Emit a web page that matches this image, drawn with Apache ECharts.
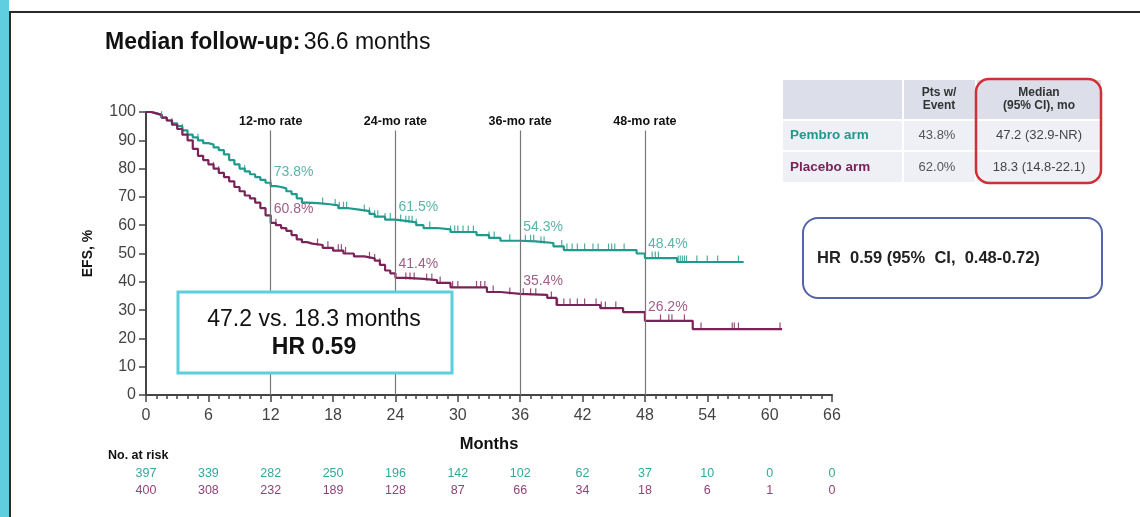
<!DOCTYPE html>
<html>
<head>
<meta charset="utf-8">
<script src="https://cdn.jsdelivr.net/npm/echarts@6/dist/echarts.min.js"></script>
<style>
  html, body { margin: 0; padding: 0; background: #fff; }
  #chart { width: 1140px; height: 517px; }
</style>
</head>
<body>
<div id="chart"></div>
<script>
// Kaplan-Meier event-free survival, step points [month, EFS %]
const pembroTimes  = [0,0.5,1,1.5,2,2.5,3,3.5,4,4.5,5,5.5,6,6.5,7,7.5,8,8.5,9,9.5,10,10.5,11,11.5,12,12.5,13,13.5,14,14.5,15,15.5,16.5,17.5,18.5,19.5,20.5,21.5,22,23,24,25,26,26.7,28,29.3,31.8,33,34.1,36,37.5,39.2,40.2,47.2,48,51.1,57.5];
const pembroEFS    = [100,99.5,99,98,97,96,95,93.5,92,91,90,89,88.5,87.5,86.5,85,83,81.5,80,79,78,77,76,75,73.8,73.5,73,72,71,69.5,68,67.8,67.5,67,66,65.5,65,64,63,62,61.5,61,60,59,58.5,57.6,56.5,55.5,54.5,54.3,53.7,52.5,51.2,50,48.4,47,47];
const placeboTimes = [0,0.5,1,1.5,2,2.5,3,3.5,4,4.5,5,5.5,6,6.5,7,7.5,8,8.5,9,9.5,10,10.5,11,11.5,12,12.5,13,13.5,14,14.5,15,15.5,16,17,18,19,20,21,22,22.5,23,23.5,24,25,26.7,28,29.3,32.8,34.1,36,38.6,39.5,43.7,45.9,48,52.6,61.2];
const placeboEFS   = [100,99.5,99,98,97,95.5,94,92,90,87,84.5,83,81.5,80,78.5,77,75.5,73.5,72,70.5,69.5,68,66,63.5,60.8,60,59,58,56.5,55,54,53.5,53,52,51,50,49,48.3,47.5,46,44,43,41.4,41,40.6,39.6,38,36.4,35.7,35.4,34.3,31.8,30.7,29.3,26.2,23.3,23.3];

// Censoring times (months)
const pembroCensor  = [1.5,3.5,5,9.5,12,17,18.2,18.6,19,19.3,21,21.5,22,22.3,23,23.5,24.5,25,25.3,25.6,26,27.3,29.3,29.7,30,30.5,31,31.5,33,33.5,35,36.5,37,37.3,38,38.3,40,40.5,41,41.5,42.2,43,43.5,44.5,44.8,45.1,46,48.7,49,49.3,51.2,51.4,51.6,51.8,52,53,54,55,57];
const placeboCensor = [2.5,3.5,6.5,7,12.5,16.5,17.5,18.5,18.8,19.2,21.5,22,22.5,25,25.4,25.8,27,27.5,28.3,29.5,30,31.8,32.2,32.6,33.4,35,36.3,37,37.5,39,39.6,40.2,40.8,41.5,42.2,43.3,43.8,44.2,45.2,49.5,50.3,50.6,51.8,53.4,56.4,56.6,57,61];

// Landmark rates
const rateMonths   = [12, 24, 36, 48];
const rateLabels   = ['12-mo rate', '24-mo rate', '36-mo rate', '48-mo rate'];
const pembroRates  = [73.8, 61.5, 54.3, 48.4];
const placeboRates = [60.8, 41.4, 35.4, 26.2];

// Number at risk, every 6 months
const riskMonths  = [0,6,12,18,24,30,36,42,48,54,60,66];
const riskPembro  = [397,339,282,250,196,142,102,62,37,10,0,0];
const riskPlacebo = [400,308,232,189,128,87,66,34,18,6,1,0];

// Summary table
const tableArms    = ['Pembro arm', 'Placebo arm'];
const tableEvents  = ['43.8%', '62.0%'];
const tableMedians = ['47.2 (32.9-NR)', '18.3 (14.8-22.1)'];

const TEAL = '#1f9a8c';
const MAROON = '#7b2358';
const FONT = '"Liberation Sans", Arial, sans-serif';

function zipPts(t, v) { return t.map((x, i) => [x, v[i]]); }
function stepValue(t, v, x) {
  let y = v[0];
  for (let i = 0; i < t.length; i++) { if (t[i] <= x) y = v[i]; else break; }
  return y;
}
function censorPts(c, t, v) { return c.map(x => [x, stepValue(t, v, x)]); }

const chart = echarts.init(document.getElementById('chart'), null, { renderer: 'canvas' });

function riskAxis(values, color, offset) {
  return {
    type: 'value', min: 0, max: 66, interval: 6, position: 'bottom', offset: offset,
    axisLine: { show: false }, axisTick: { show: false }, splitLine: { show: false },
    axisLabel: {
      showMinLabel: true, showMaxLabel: true, margin: 0,
      color: color, fontSize: 12.5, fontFamily: FONT,
      formatter: v => { const i = riskMonths.indexOf(v); return i >= 0 ? String(values[i]) : ''; }
    }
  };
}

const graphics = [];
// page frame
graphics.push({ type: 'rect', shape: { x: 0, y: 0, width: 9, height: 517 }, style: { fill: '#5fcfdf' } });
graphics.push({ type: 'rect', shape: { x: 9, y: 11, width: 2, height: 506 }, style: { fill: '#2a2a2a' } });
graphics.push({ type: 'rect', shape: { x: 9, y: 11, width: 1131, height: 2 }, style: { fill: '#2a2a2a' } });
// title
graphics.push({
  type: 'text', left: 105, top: 31,
  style: {
    text: '{b|Median follow-up:} {n|36.6 months}',
    rich: {
      b: { fontSize: 23, fontWeight: 'bold', fontFamily: FONT, fill: '#111' },
      n: { fontSize: 23, fontFamily: FONT, fill: '#111' }
    }
  }
});
// summary table
const colX = [783, 904, 977];
const colW = [119, 71, 124];
const rowY = [80, 121, 152];
const rowH = [39, 29, 30];
for (let r = 0; r < 3; r++) {
  for (let c = 0; c < 3; c++) {
    graphics.push({ type: 'rect', shape: { x: colX[c], y: rowY[r], width: colW[c], height: rowH[r] },
      style: { fill: r === 0 ? '#dcdfea' : '#eef0f6' } });
  }
}
graphics.push({ type: 'text', x: 939, y: 99, style: { text: 'Pts w/\nEvent', fontSize: 12, fontWeight: 'bold', fontFamily: FONT, fill: '#333', align: 'center', verticalAlign: 'middle', lineHeight: 13 } });
graphics.push({ type: 'text', x: 1039, y: 99, style: { text: 'Median\n(95% CI), mo', fontSize: 12, fontWeight: 'bold', fontFamily: FONT, fill: '#333', align: 'center', verticalAlign: 'middle', lineHeight: 13 } });
const armColors = [TEAL, MAROON];
for (let r = 0; r < 2; r++) {
  const cy = rowY[r + 1] + rowH[r + 1] / 2;
  graphics.push({ type: 'text', x: 790, y: cy, style: { text: tableArms[r], fontSize: 13.5, fontWeight: 'bold', fontFamily: FONT, fill: armColors[r], verticalAlign: 'middle' } });
  graphics.push({ type: 'text', x: 937, y: cy, style: { text: tableEvents[r], fontSize: 13, fontFamily: FONT, fill: '#555', align: 'center', verticalAlign: 'middle' } });
  graphics.push({ type: 'text', x: 1039, y: cy, style: { text: tableMedians[r], fontSize: 13, fontFamily: FONT, fill: '#444', align: 'center', verticalAlign: 'middle' } });
}
graphics.push({ type: 'rect', shape: { x: 976, y: 79, width: 125, height: 104, r: 13 }, style: { fill: 'none', stroke: '#d02f35', lineWidth: 2.5 } });
// HR box
graphics.push({ type: 'rect', shape: { x: 803, y: 218, width: 299, height: 80, r: 15 }, style: { fill: '#fff', stroke: '#5563a8', lineWidth: 2 } });
graphics.push({ type: 'text', x: 817, y: 258, style: { text: 'HR  0.59 (95%  CI,  0.48-0.72)', fontSize: 16.5, fontWeight: 'bold', fontFamily: FONT, fill: '#222', verticalAlign: 'middle' } });
// medians box on the plot
graphics.push({ type: 'rect', z: 10, shape: { x: 178, y: 292, width: 274, height: 81 }, style: { fill: '#fff', stroke: '#5ccfdc', lineWidth: 3 } });
graphics.push({ type: 'text', z: 11, x: 314, y: 320, style: { text: '47.2 vs. 18.3 months', fontSize: 23, fontFamily: FONT, fill: '#111', align: 'center', verticalAlign: 'middle' } });
graphics.push({ type: 'text', z: 11, x: 314, y: 348, style: { text: 'HR 0.59', fontSize: 23, fontWeight: 'bold', fontFamily: FONT, fill: '#111', align: 'center', verticalAlign: 'middle' } });
// at-risk heading
graphics.push({ type: 'text', x: 108, y: 456, style: { text: 'No. at risk', fontSize: 12.5, fontWeight: 'bold', fontFamily: FONT, fill: '#111', verticalAlign: 'middle' } });

const rateLineData = rateMonths.map((m, i) => [
  { coord: [m, 0], symbol: 'none' },
  { coord: [m, 93.5], symbol: 'none', label: { formatter: rateLabels[i] } }
]);

function rateLabelSeries(rates, color) {
  return {
    type: 'scatter', symbolSize: 0, silent: true, z: 5,
    data: rateMonths.map((m, i) => [m, rates[i]]),
    label: {
      show: true, position: 'right', distance: 3, offset: [0, -14],
      formatter: p => p.value[1].toFixed(1) + '%',
      color: color, fontSize: 14, fontFamily: FONT
    }
  };
}

function censorSeries(c, t, v, color) {
  return {
    type: 'scatter', silent: true, z: 4,
    symbol: 'rect', symbolSize: [1.2, 7], symbolOffset: [0, -3],
    itemStyle: { color: color },
    data: censorPts(c, t, v)
  };
}

chart.setOption({
  animation: false,
  textStyle: { fontFamily: FONT },
  grid: { left: 146, right: 308, top: 112, bottom: 122, containLabel: false },
  xAxis: [
    {
      type: 'value', min: 0, max: 66, interval: 6,
      name: 'Months', nameLocation: 'middle', nameGap: 41,
      nameTextStyle: { fontSize: 16.5, fontWeight: 'bold', color: '#111', fontFamily: FONT },
      axisLine: { lineStyle: { color: '#444', width: 2 } },
      axisTick: { show: true, length: 7, inside: false, lineStyle: { color: '#444', width: 1.5 } },
      minorTick: { show: true, splitNumber: 6, length: 4, lineStyle: { color: '#444', width: 1.5 } },
      splitLine: { show: false },
      axisLabel: { fontSize: 16, color: '#444', margin: 13, showMinLabel: true, showMaxLabel: true, fontFamily: FONT }
    },
    riskAxis(riskPembro, '#34a89b', 72),
    riskAxis(riskPlacebo, '#8f4477', 89)
  ],
  yAxis: {
    type: 'value', min: 0, max: 100, interval: 10,
    name: 'EFS, %', nameLocation: 'middle', nameGap: 51, nameRotate: 90,
    nameTextStyle: { fontSize: 14, fontWeight: 'bold', color: '#111', fontFamily: FONT },
    axisLine: { show: true, lineStyle: { color: '#444', width: 2 } },
    axisTick: { show: true, length: 7, lineStyle: { color: '#444', width: 1.5 } },
    splitLine: { show: false },
    axisLabel: { fontSize: 16, color: '#444', margin: 10, fontFamily: FONT }
  },
  graphic: graphics,
  series: [
    {
      name: 'Pembro arm', type: 'line', step: 'end', symbol: 'none', z: 3,
      lineStyle: { color: TEAL, width: 2.2 },
      data: zipPts(pembroTimes, pembroEFS),
      markLine: {
        silent: true, symbol: 'none',
        lineStyle: { color: '#777', width: 1.2, type: 'solid' },
        label: { show: true, position: 'end', distance: 2, color: '#111', fontSize: 12.5, fontWeight: 'bold', fontFamily: FONT },
        data: rateLineData
      }
    },
    {
      name: 'Placebo arm', type: 'line', step: 'end', symbol: 'none', z: 3,
      lineStyle: { color: MAROON, width: 2.2 },
      data: zipPts(placeboTimes, placeboEFS)
    },
    censorSeries(pembroCensor, pembroTimes, pembroEFS, TEAL),
    censorSeries(placeboCensor, placeboTimes, placeboEFS, MAROON),
    rateLabelSeries(pembroRates, '#2ea395'),
    rateLabelSeries(placeboRates, '#8a3669')
  ]
});
</script>
</body>
</html>
